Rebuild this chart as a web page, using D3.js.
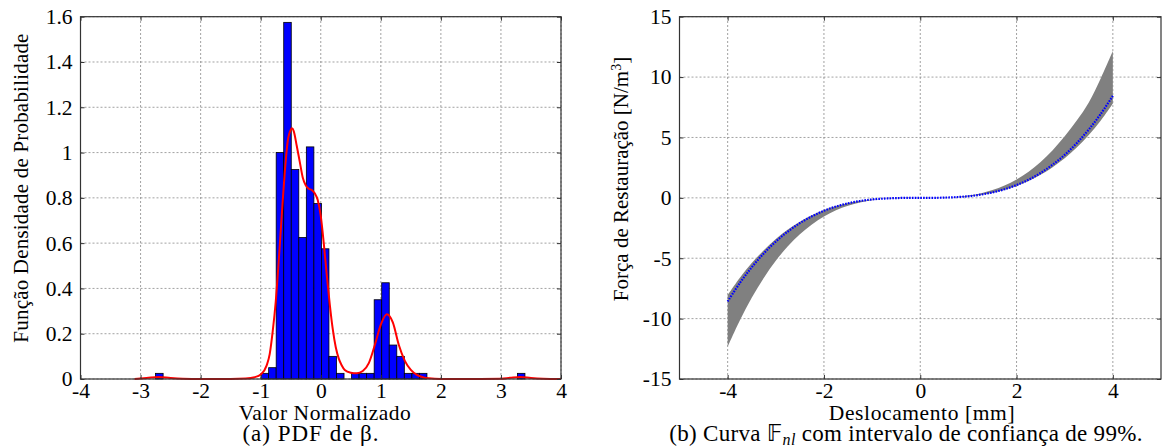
<!DOCTYPE html>
<html>
<head>
<meta charset="utf-8">
<script src="https://cdn.jsdelivr.net/npm/d3@7"></script>
<style>
  body { margin: 0; background: #fff; }
  svg { display: block; }
  text { font-family: "Liberation Serif", "Times New Roman", serif; fill: #000; }
</style>
</head>
<body>
<svg id="chart" width="1162" height="447"></svg>
<script>
// ---------- Data: (a) histogram of normalized beta ----------
const binWidth = 0.1255;
const binLeft = [-2.750, -0.993, -0.8675, -0.742, -0.6165, -0.491, -0.3655, -0.240, -0.1145, 0.011, 0.1365, 0.262,
                 0.513, 0.6385, 0.764, 0.8895, 1.015, 1.1405, 1.266, 1.3915, 1.517, 1.6425, 3.274];
const binDensity = [0.025, 0.025, 0.05, 1.0, 1.575, 0.925, 0.625, 1.025, 0.775, 0.575, 0.10, 0.025,
                    0.025, 0.025, 0.025, 0.35, 0.425, 0.15, 0.10, 0.025, 0.025, 0.025, 0.025];

// kernel density estimate (red curve)
const kdeX = [-3.1, -2.9, -2.7, -2.5, -2.3, -2.0, -1.5, -1.25, -1.1, -1.0, -0.9, -0.85, -0.8, -0.75, -0.7, -0.65,
              -0.6, -0.55, -0.5, -0.48, -0.45, -0.4, -0.35, -0.3, -0.25, -0.2, -0.15, -0.1, -0.05, 0.0, 0.05, 0.1,
              0.15, 0.2, 0.25, 0.3, 0.35, 0.4, 0.5, 0.6, 0.7, 0.8, 0.9, 1.0, 1.1, 1.2, 1.3, 1.4, 1.5, 1.6, 1.7,
              1.8, 2.0, 2.5, 3.0, 3.15, 3.33, 3.5, 3.7, 4.0];
const kdeY = [0.000, 0.004, 0.009, 0.004, 0.001, 0.000, 0.000, 0.002, 0.008, 0.02, 0.06, 0.11, 0.21, 0.34, 0.52, 0.72,
              0.91, 1.05, 1.10, 1.107, 1.095, 1.03, 0.96, 0.89, 0.855, 0.84, 0.835, 0.82, 0.79, 0.72, 0.60, 0.46,
              0.33, 0.22, 0.14, 0.09, 0.06, 0.04, 0.028, 0.025, 0.035, 0.07, 0.15, 0.24, 0.286, 0.25, 0.15, 0.08, 0.04, 0.018, 0.008,
              0.003, 0.000, 0.000, 0.001, 0.005, 0.009, 0.004, 0.001, 0.000];

const xTicksA = [-4, -3, -2, -1, 0, 1, 2, 3, 4];
const yTicksA = [0, 0.2, 0.4, 0.6, 0.8, 1.0, 1.2, 1.4, 1.6];

// ---------- Data: (b) restoring force with 99% confidence band ----------
const dispX = [-4, -3.75, -3.5, -3.25, -3, -2.75, -2.5, -2.25, -2, -1.75, -1.5, -1.25, -1, -0.75, -0.5, -0.25, 0,
               0.25, 0.5, 0.75, 1, 1.25, 1.5, 1.75, 2, 2.25, 2.5, 2.75, 3, 3.25, 3.5, 3.75, 4];
const forceMean = [-8.58, -7.07, -5.75, -4.60, -3.62, -2.79, -2.09, -1.53, -1.07, -0.72, -0.45, -0.26, -0.13, -0.06, -0.02, 0.00, 0,
                   0.00, 0.02, 0.06, 0.13, 0.26, 0.45, 0.71, 1.06, 1.50, 2.06, 2.75, 3.56, 4.53, 5.66, 6.96, 8.45];
const forceUpper = [-8.06, -6.64, -5.40, -4.33, -3.40, -2.62, -1.97, -1.44, -1.01, -0.68, -0.43, -0.25, -0.13, -0.05, -0.016, -0.002, 0,
                    0.00, 0.02, 0.08, 0.19, 0.37, 0.64, 1.02, 1.52, 2.16, 2.97, 3.95, 5.10, 6.40, 7.90, 9.90, 12.15];
const forceLower = [-12.34, -10.18, -8.27, -6.63, -5.21, -4.01, -3.02, -2.20, -1.54, -1.03, -0.65, -0.38, -0.19, -0.08, -0.024, -0.003, 0,
                    0.00, 0.015, 0.05, 0.12, 0.24, 0.41, 0.66, 0.98, 1.39, 1.91, 2.54, 3.28, 4.16, 5.20, 6.40, 7.82];

const xTicksB = [-4, -2, 0, 2, 4];
const yTicksB = [-15, -10, -5, 0, 5, 10, 15];

// ---------- Drawing ----------
const svg = d3.select("#chart");
const FS = 21;

function frame(g, x, y, xTicks, yTicks) {
  const [x0, x1] = x.range();
  const [y0, y1] = y.range();
  const grid = g.append("g").attr("class", "grid");
  grid.selectAll("line.gx").data(xTicks).join("line")
    .attr("x1", d => x(d)).attr("x2", d => x(d)).attr("y1", y0).attr("y2", y1)
    .attr("stroke", "#8a8a8a").attr("stroke-width", 0.8).attr("stroke-dasharray", "2,2");
  grid.selectAll("line.gy").data(yTicks).join("line")
    .attr("x1", x0).attr("x2", x1).attr("y1", d => y(d)).attr("y2", d => y(d))
    .attr("stroke", "#8a8a8a").attr("stroke-width", 0.8).attr("stroke-dasharray", "2,2");
}

function axesBox(g, x, y, xTicks, yTicks, xFmt, yFmt) {
  const [x0, x1] = x.range();
  const [y0, y1] = y.range();
  const bottom = g.append("g").attr("transform", `translate(0,${y0})`)
    .call(d3.axisBottom(x).tickValues(xTicks).tickFormat(xFmt).tickSizeInner(-4).tickSizeOuter(0).tickPadding(4));
  const top = g.append("g").attr("transform", `translate(0,${y1})`)
    .call(d3.axisTop(x).tickValues(xTicks).tickFormat("").tickSizeInner(-4).tickSizeOuter(0));
  const left = g.append("g").attr("transform", `translate(${x0},0)`)
    .call(d3.axisLeft(y).tickValues(yTicks).tickFormat(yFmt).tickSizeInner(-4).tickSizeOuter(0).tickPadding(8));
  const right = g.append("g").attr("transform", `translate(${x1},0)`)
    .call(d3.axisRight(y).tickValues(yTicks).tickFormat("").tickSizeInner(-4).tickSizeOuter(0));
  [bottom, top, left, right].forEach(a => {
    a.select(".domain").remove();
    a.selectAll(".tick line").attr("stroke", "#333").attr("stroke-width", 1);
    a.selectAll("text").attr("font-family", "Liberation Serif, serif").attr("font-size", 21.5).attr("fill", "#000");
  });
  g.append("rect").attr("x", x0).attr("y", y1).attr("width", x1 - x0).attr("height", y0 - y1)
    .attr("fill", "none").attr("stroke", "#333").attr("stroke-width", 1.2);
}

const fmtInt = d => String(d).replace("\u2212", "-");
const fmtDec = d => (Number.isInteger(d) ? String(d) : d.toFixed(1));

// ----- (a) -----
const xA = d3.scaleLinear().domain([-4, 4]).range([80.5, 561]);
const yA = d3.scaleLinear().domain([0, 1.6]).range([379, 16.7]);
const gA = svg.append("g");
frame(gA, xA, yA, xTicksA, yTicksA);

const bins = binLeft.map((l, i) => ({ x0: l, x1: l + binWidth, h: binDensity[i] }));
gA.append("g").selectAll("rect").data(bins).join("rect")
  .attr("x", d => xA(d.x0)).attr("width", d => xA(d.x1) - xA(d.x0))
  .attr("y", d => yA(d.h)).attr("height", d => yA(0) - yA(d.h))
  .attr("fill", "#0000ff").attr("stroke", "#000").attr("stroke-width", 0.8);

const kde = kdeX.map((x, i) => [x, kdeY[i]]);
gA.append("path").datum(kde)
  .attr("fill", "none").attr("stroke", "#ff0000").attr("stroke-width", 2)
  .attr("d", d3.line().x(d => xA(d[0])).y(d => yA(d[1])).curve(d3.curveMonotoneX));

axesBox(gA, xA, yA, xTicksA, yTicksA, fmtInt, fmtDec);

svg.append("text").attr("x", 325).attr("y", 420).attr("text-anchor", "middle").attr("font-size", 21.5)
  .attr("letter-spacing", 0.5).text("Valor Normalizado");
svg.append("text").attr("transform", "translate(28,188) rotate(-90)").attr("text-anchor", "middle").attr("font-size", FS)
  .attr("letter-spacing", 0.2).text("Função Densidade de Probabilidade");
svg.append("text").attr("x", 311).attr("y", 441).attr("text-anchor", "middle").attr("font-size", 23)
  .attr("letter-spacing", 1).text("(a) PDF de β.");

// ----- (b) -----
const xB = d3.scaleLinear().domain([-5, 5]).range([679.5, 1161]);
const yB = d3.scaleLinear().domain([-15, 15]).range([379, 16.7]);
const gB = svg.append("g");
frame(gB, xB, yB, xTicksB, yTicksB);

const band = dispX.map((x, i) => ({ x, lo: forceLower[i], hi: forceUpper[i] }));
gB.append("path").datum(band)
  .attr("fill", "#808080").attr("stroke", "none")
  .attr("d", d3.area().x(d => xB(d.x)).y0(d => yB(d.lo)).y1(d => yB(d.hi)).curve(d3.curveCatmullRom));

const mean = dispX.map((x, i) => [x, forceMean[i]]);
gB.append("path").datum(mean)
  .attr("fill", "none").attr("stroke", "#0000ff").attr("stroke-width", 2.2).attr("stroke-dasharray", "1.6,1.2")
  .attr("d", d3.line().x(d => xB(d[0])).y(d => yB(d[1])).curve(d3.curveCatmullRom));

axesBox(gB, xB, yB, xTicksB, yTicksB, fmtInt, fmtInt);

svg.append("text").attr("x", 922).attr("y", 420).attr("text-anchor", "middle").attr("font-size", 21.5)
  .attr("letter-spacing", 0.6).text("Deslocamento [mm]");
const yl = svg.append("text").attr("transform", "translate(628,179) rotate(-90)").attr("text-anchor", "middle").attr("font-size", FS);
yl.append("tspan").text("Força de Restauração [N/m");
yl.append("tspan").attr("font-size", 14).attr("baseline-shift", "super").text("3");
yl.append("tspan").text("]");

const cap = svg.append("text").attr("x", 906).attr("y", 441).attr("text-anchor", "middle").attr("font-size", 23)
  .attr("letter-spacing", 0.3);
cap.append("tspan").text("(b) Curva ");
cap.append("tspan").attr("font-family", "DejaVu Sans, sans-serif").text("𝔽");
cap.append("tspan").attr("font-size", 16).attr("font-style", "italic").attr("baseline-shift", "-4").text("nl");
cap.append("tspan").text(" com intervalo de confiança de 99%.");
</script>
</body>
</html>
